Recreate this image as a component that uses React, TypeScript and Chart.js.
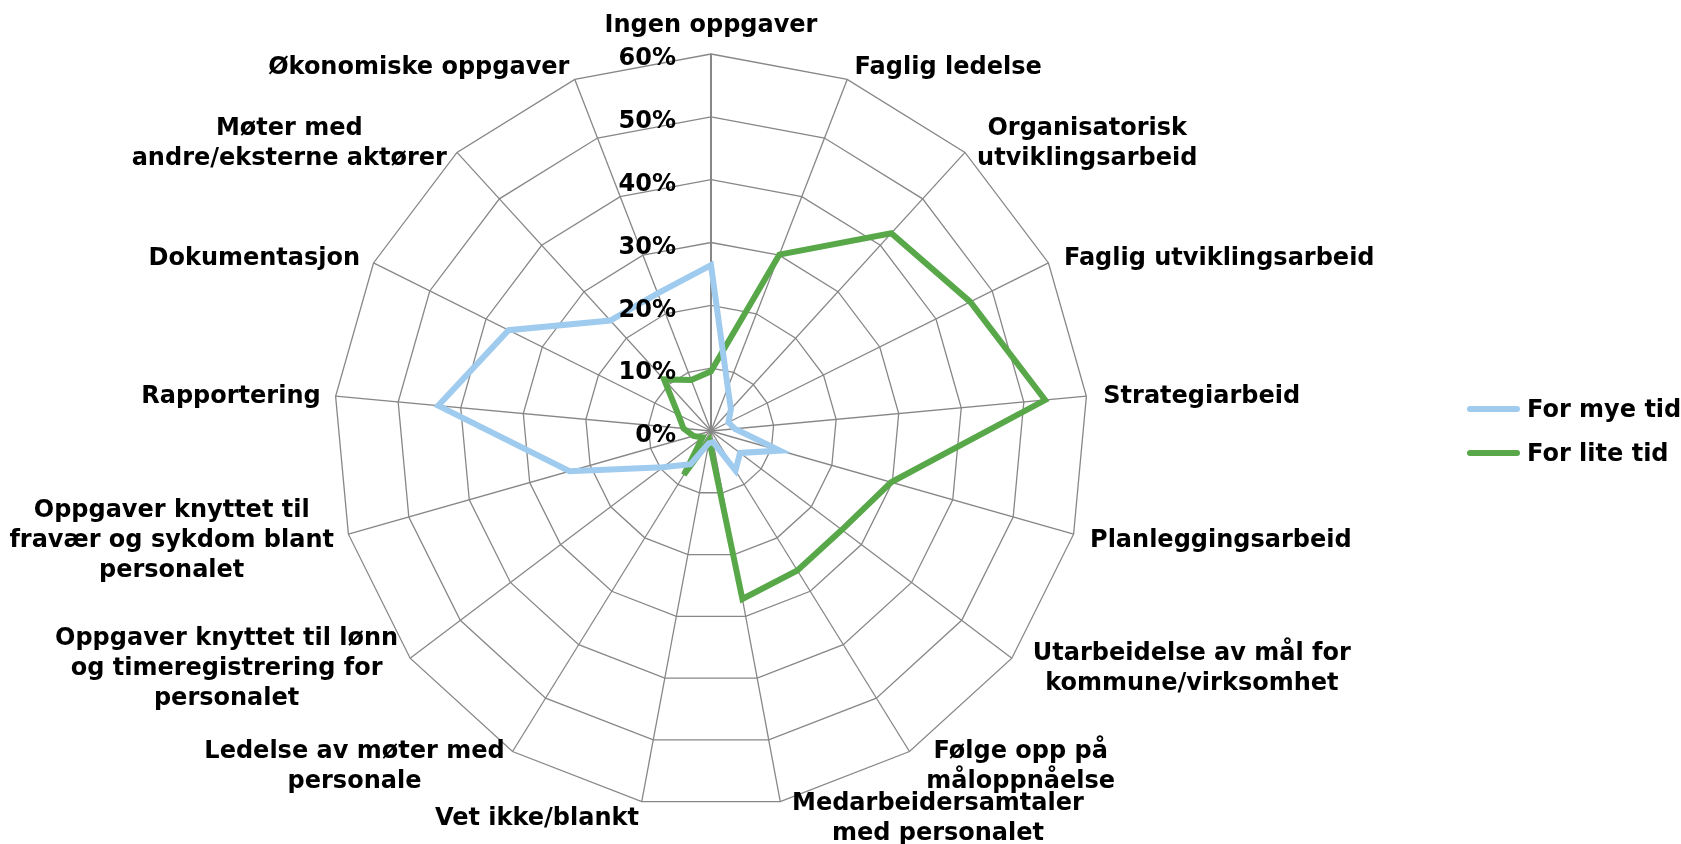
import React, { useEffect, useRef } from "react";
import { Chart, registerables } from "chart.js";

Chart.register(...registerables);

const categories: (string | string[])[] = [
  "Ingen oppgaver",
  "Faglig ledelse",
  ["Organisatorisk", "utviklingsarbeid"],
  "Faglig utviklingsarbeid",
  "Strategiarbeid",
  "Planleggingsarbeid",
  ["Utarbeidelse av mål for", "kommune/virksomhet"],
  ["Følge opp på", "måloppnåelse"],
  ["Medarbeidersamtaler", "med personalet"],
  "Vet ikke/blankt",
  ["Ledelse av møter med", "personale"],
  ["Oppgaver knyttet til lønn", "og timeregistrering for", "personalet"],
  ["Oppgaver knyttet til", "fravær og sykdom blant", "personalet"],
  "Rapportering",
  "Dokumentasjon",
  ["Møter med", "andre/eksterne aktører"],
  "Økonomiske oppgaver",
];

const forMyeTid = [26.4, 7.4, 4.7, 3.1, 3.8, 11.4, 5.8, 7.4, 1.8, 2.0, 6.2, 9.6, 23.4, 43.6, 36.0, 23.8, 23.5];
const forLiteTid = [9.5, 30.1, 42.6, 46.1, 53.4, 29.8, 26.1, 26.1, 27.2, 1.5, 8.2, 1.7, 2.9, 4.4, 5.8, 11.1, 8.7];

const seriesNames = ["For mye tid", "For lite tid"];
const seriesColors = ["#9FCBEF", "#58A84A"];
const tickValues = [0, 10, 20, 30, 40, 50, 60];

const FONT_FAMILY = "'DejaVu Sans', Verdana, sans-serif";
const LABEL_SIZE = 24;
const LINE_H = 30;
const GRID_COLOR = "#878787";
const SERIES_WIDTH = 6;

const labelPlugin = {
  id: "excelLabels",
  afterDraw(chart: any) {
    const scale = chart.scales.r;
    const ctx = chart.ctx as CanvasRenderingContext2D;
    ctx.save();
    ctx.fillStyle = "#000";
    ctx.font = `bold ${LABEL_SIZE}px ${FONT_FAMILY}`;
    ctx.textBaseline = "middle";

    // tick labels, right-aligned left of the vertical axis
    ctx.textAlign = "right";
    tickValues.forEach((v) => {
      const d = scale.getDistanceFromCenterForValue(v);
      ctx.fillText(`${v}%`, scale.xCenter - 35, scale.yCenter - d + 5);
    });

    // category labels
    categories.forEach((lab, i) => {
      const lines = Array.isArray(lab) ? lab : [lab];
      const pos = scale.getPointPosition(i, scale.drawingArea);
      const theta = (i * 2 * Math.PI) / categories.length;
      const s = Math.sin(theta);
      const c = Math.cos(theta);
      const widths = lines.map((l) => ctx.measureText(l).width);
      const W = Math.max(...widths);
      const H = lines.length * LINE_H;
      let cy = pos.y - c * 15 + 2;
      if (Math.abs(s) < 0.01 && c > 0) cy = pos.y - 28;
      let cx: number;
      if (Math.abs(s) < 0.01) {
        cx = pos.x;
      } else if (s > 0) {
        const gap = 15 * s + 2 + (c < -0.3 ? 7 : 0);
        cx = pos.x + gap + W / 2;
      } else {
        const gap = 15 * -s;
        cx = pos.x - gap - W / 2;
      }
      ctx.textAlign = "center";
      lines.forEach((l, k) => {
        ctx.fillText(l, cx, cy - H / 2 + LINE_H * (k + 0.5));
      });
    });
    ctx.restore();
  },
};

function RadarChart() {
  const ref = useRef<HTMLCanvasElement>(null);
  useEffect(() => {
    if (!ref.current) return;
    const chart = new Chart(ref.current, {
      type: "radar",
      data: {
        labels: categories,
        datasets: [
          {
            label: seriesNames[0],
            data: forMyeTid,
            borderColor: seriesColors[0],
            backgroundColor: seriesColors[0],
            borderWidth: SERIES_WIDTH,
            pointRadius: 0,
            fill: false,
            borderJoinStyle: "miter",
          },
          {
            label: seriesNames[1],
            data: forLiteTid,
            borderColor: seriesColors[1],
            backgroundColor: seriesColors[1],
            borderWidth: SERIES_WIDTH,
            pointRadius: 0,
            fill: false,
            borderJoinStyle: "miter",
          },
        ],
      },
      options: {
        responsive: false,
        animation: false,
        devicePixelRatio: 1,
        layout: { padding: { top: 54, bottom: 36, left: 334, right: 593 } },
        plugins: {
          legend: { display: false },
          tooltip: { enabled: false },
        },
        elements: { line: { tension: 0 } },
        scales: {
          r: {
            min: 0,
            max: 60,
            startAngle: 0,
            ticks: { stepSize: 10, display: false },
            pointLabels: { display: false },
            grid: { color: GRID_COLOR, lineWidth: 1.3 },
            angleLines: {
              color: GRID_COLOR,
              lineWidth: (ctx: any) => (ctx.index === 0 ? 2 : 1.3),
            },
          },
        },
      } as any,
      plugins: [labelPlugin],
    });
    return () => chart.destroy();
  }, []);
  return <canvas ref={ref} width={1681} height={844} />;
}

export default function App() {
  return (
    <div style={{ position: "absolute", left: 0, top: 0, width: 1681, height: 844, background: "#fff" }}>
      <RadarChart />
      <div
        style={{
          position: "absolute",
          left: 1467,
          top: 387,
          fontFamily: FONT_FAMILY,
          fontWeight: "bold",
          fontSize: LABEL_SIZE,
          color: "#000",
        }}
      >
        {seriesNames.map((name, i) => (
          <div key={name} style={{ display: "flex", alignItems: "center", height: 44, whiteSpace: "nowrap" }}>
            <div style={{ width: 53, height: SERIES_WIDTH, background: seriesColors[i], borderRadius: 3, marginRight: 7 }} />
            <span>{name}</span>
          </div>
        ))}
      </div>
    </div>
  );
}
